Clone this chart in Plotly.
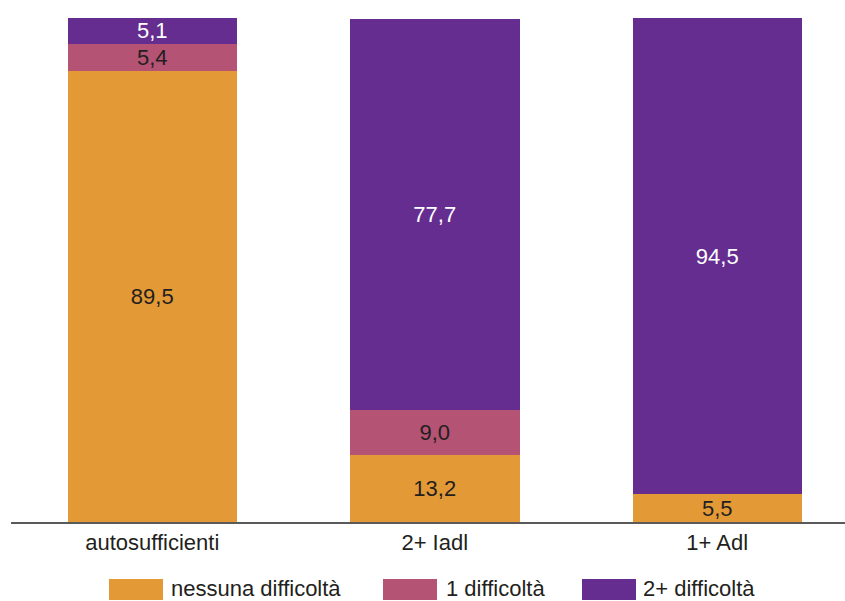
import plotly.graph_objects as go

# Categories and stacked shares (%)
categories = ["autosufficienti", "2+ Iadl", "1+ Adl"]
series_names = ["nessuna difficoltà", "1 difficoltà", "2+ difficoltà"]
nessuna = [89.5, 13.2, 5.5]
una = [5.4, 9.0, None]
due_piu = [5.1, 77.7, 94.5]

colors = ["#E39A36", "#B45373", "#652D90"]
text_colors = ["#231F20", "#231F20", "#FFFFFF"]

W, H = 845, 601
M_L, M_R, M_T, M_B = 11, 0, 18, 79
PLOT_W = W - M_L - M_R
PLOT_H = H - M_T - M_B
FONT = "Liberation Sans, Arial, Helvetica, sans-serif"
FS = 22


def fmt(v):
    return "" if v is None else f"{v:.1f}".replace(".", ",")


fig = go.Figure()
for name, vals, col, tcol in zip(series_names, [nessuna, una, due_piu], colors, text_colors):
    fig.add_trace(go.Bar(
        x=categories,
        y=vals,
        name=name,
        marker=dict(color=col, line=dict(width=0)),
        width=0.6,
        text=[fmt(v) for v in vals],
        textposition="inside",
        insidetextanchor="middle",
        constraintext="none",
        textangle=0,
        textfont=dict(family=FONT, size=FS, color=tcol),
        showlegend=False,
        hoverinfo="skip",
    ))


# Pixel -> paper helpers for the hand-drawn legend
def px_x(px):
    return (px - M_L) / PLOT_W


def px_y(py):
    return (H - M_B - py) / PLOT_H


legend_swatch_x = [109, 383, 582]
legend_text_x = [170, 445, 642]
shapes = []
annotations = []
for name, col, sx, tx in zip(series_names, colors, legend_swatch_x, legend_text_x):
    shapes.append(dict(
        type="rect", xref="paper", yref="paper",
        x0=px_x(sx), x1=px_x(sx + 54), y0=px_y(600), y1=px_y(579),
        fillcolor=col, line=dict(width=0), layer="above",
    ))
    annotations.append(dict(
        text=name, xref="paper", yref="paper",
        x=px_x(tx), y=px_y(588), xanchor="left", yanchor="middle",
        borderpad=0,
        showarrow=False, font=dict(family=FONT, size=FS, color="#231F20"),
    ))

fig.update_layout(
    width=W, height=H,
    margin=dict(l=M_L, r=M_R, t=M_T, b=M_B, pad=0),
    paper_bgcolor="white", plot_bgcolor="white",
    barmode="stack",
    separators=",.",
    showlegend=False,
    shapes=shapes,
    annotations=annotations,
    font=dict(family=FONT, size=FS, color="#231F20"),
    xaxis=dict(
        range=[-0.5, -0.5 + PLOT_W / 282.5],
        showline=True, linecolor="#5A5A5A", linewidth=1.5,
        showgrid=False, zeroline=False, ticks="",
        tickfont=dict(family=FONT, size=FS, color="#231F20"),
        fixedrange=True,
    ),
    yaxis=dict(
        range=[0, 100], visible=False, showgrid=False, zeroline=False,
        fixedrange=True,
    ),
)

fig.write_html("out.html")
